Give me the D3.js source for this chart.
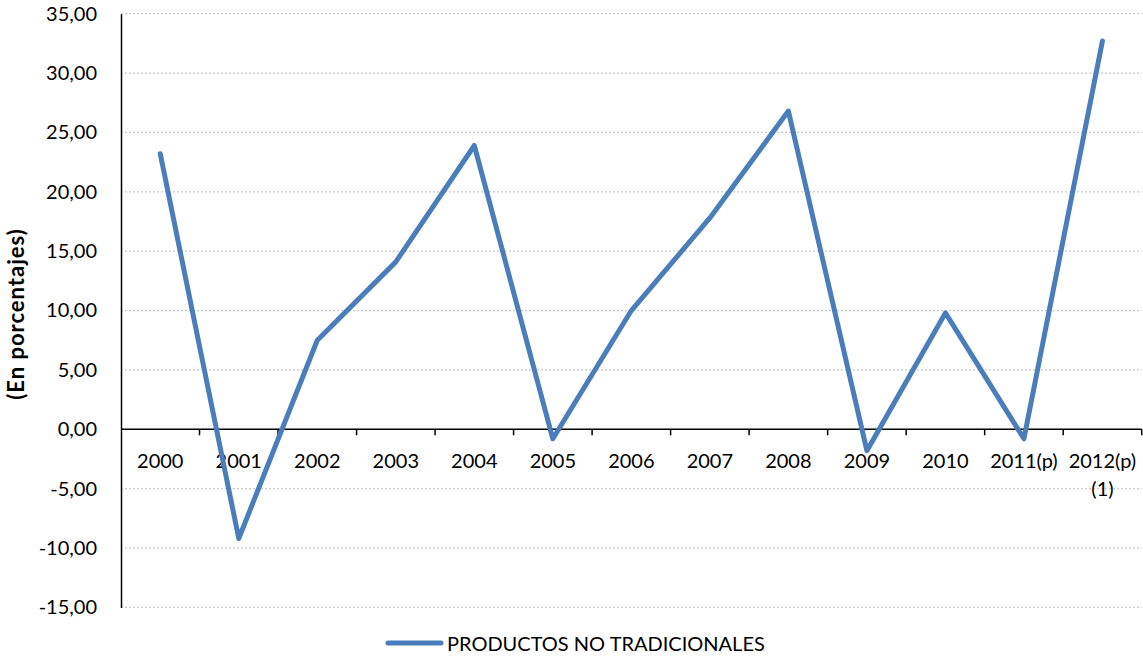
<!DOCTYPE html>
<html>
<head>
<meta charset="utf-8">
<script src="https://cdn.jsdelivr.net/npm/d3@7"></script>
<style>
  html, body { margin: 0; padding: 0; background: #fff; }
  svg { display: block; font-family: Lato, "Liberation Sans", sans-serif; }
</style>
</head>
<body>
<svg id="chart" width="1143" height="656"></svg>
<script>
// Tasa de variación anual de las exportaciones de productos no tradicionales
const years = ["2000", "2001", "2002", "2003", "2004", "2005", "2006", "2007",
               "2008", "2009", "2010", "2011(p)", "2012(p)\n(1)"];
const values = [23.2, -9.2, 7.5, 14.1, 23.9, -0.8, 10.0, 17.8, 26.8, -1.8, 9.8, -0.8, 32.7];
const yTicks = [-15, -10, -5, 0, 5, 10, 15, 20, 25, 30, 35];
const seriesName = "PRODUCTOS NO TRADICIONALES";
const axisTitle = "(En porcentajes)";

const data = years.map((y, i) => ({ year: y, value: values[i] }));

const svg = d3.select("#chart");
const plotLeft = 121, plotRight = 1141.7, plotTop = 13.7, plotBottom = 607.4;
const lineColor = "#4a7ebb";

const x = d3.scaleBand().domain(years).range([plotLeft, plotRight]).padding(0);
const y = d3.scaleLinear().domain([-15, 35]).range([plotBottom, plotTop]);

const es = d3.formatLocale({ decimal: ",", thousands: ".", grouping: [3], currency: ["", "€"], minus: "-" });
const fmt = es.format(".2f");

// horizontal dotted gridlines
svg.append("g")
  .selectAll("line")
  .data(yTicks)
  .join("line")
  .attr("x1", plotLeft).attr("x2", plotRight)
  .attr("y1", d => y(d)).attr("y2", d => y(d))
  .attr("stroke", "#c8c8c8")
  .attr("stroke-width", 1.2)
  .attr("stroke-dasharray", "2,2");

// y axis (labels only, plus the vertical rule)
const yAxis = svg.append("g")
  .attr("transform", `translate(${plotLeft},0)`)
  .call(d3.axisLeft(y).tickValues(yTicks).tickFormat(fmt).tickSize(0).tickPadding(24));
yAxis.select(".domain").attr("stroke", "#000").attr("stroke-width", 1.5);
yAxis.selectAll("text")
  .attr("font-family", "Lato, 'Liberation Sans', sans-serif")
  .attr("font-size", 20)
  .attr("fill", "#000");

// category axis on the zero line, ticks at band boundaries
const zeroY = y(0);
svg.append("line")
  .attr("x1", plotLeft).attr("x2", plotRight)
  .attr("y1", zeroY).attr("y2", zeroY)
  .attr("stroke", "#000").attr("stroke-width", 1.5);

const bounds = years.map(d => x(d)).concat([x(years[years.length - 1]) + x.bandwidth()]);
svg.append("g")
  .selectAll("line")
  .data(bounds.slice(1))
  .join("line")
  .attr("x1", d => d).attr("x2", d => d)
  .attr("y1", zeroY).attr("y2", zeroY + 6)
  .attr("stroke", "#000").attr("stroke-width", 1.5);

const labels = svg.append("g")
  .selectAll("text")
  .data(years)
  .join("text")
  .attr("x", d => x(d) + x.bandwidth() / 2)
  .attr("y", zeroY + 39)
  .attr("text-anchor", "middle")
  .attr("font-size", 20)
  .attr("fill", "#000");
labels.each(function (d) {
  const parts = d.split("\n");
  d3.select(this).selectAll("tspan")
    .data(parts)
    .join("tspan")
    .attr("x", x(d) + x.bandwidth() / 2)
    .attr("dy", (p, i) => i === 0 ? 0 : 28)
    .text(p => p);
});

// axis title
svg.append("text")
  .attr("transform", "translate(24,314) rotate(-90)")
  .attr("text-anchor", "middle")
  .attr("font-size", 22)
  .attr("font-weight", "bold")
  .attr("letter-spacing", 1)
  .attr("fill", "#000")
  .text(axisTitle);

// series line
const line = d3.line()
  .x(d => x(d.year) + x.bandwidth() / 2)
  .y(d => y(d.value));

svg.append("path")
  .datum(data)
  .attr("d", line)
  .attr("fill", "none")
  .attr("stroke", lineColor)
  .attr("stroke-width", 5)
  .attr("stroke-linejoin", "round")
  .attr("stroke-linecap", "round");

// legend
const legend = svg.append("g");
legend.append("line")
  .attr("x1", 388).attr("x2", 441)
  .attr("y1", 643).attr("y2", 643)
  .attr("stroke", lineColor)
  .attr("stroke-width", 5)
  .attr("stroke-linecap", "round");
legend.append("text")
  .attr("x", 447).attr("y", 651)
  .attr("font-size", 20)
  .attr("fill", "#000")
  .text(seriesName);
</script>
</body>
</html>
